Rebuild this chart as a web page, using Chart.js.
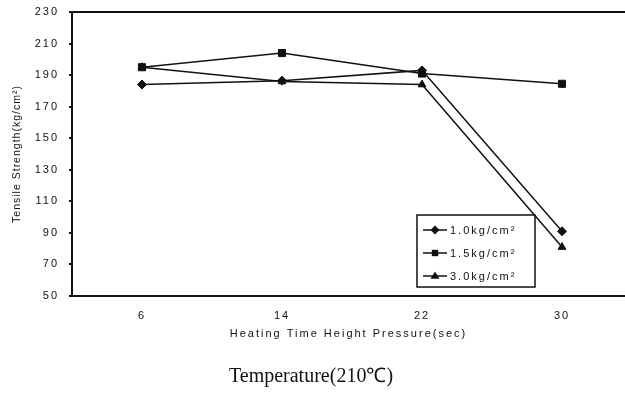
<!DOCTYPE html>
<html>
<head>
<meta charset="utf-8">
<script src="https://cdn.jsdelivr.net/npm/chart.js@4.4.1/dist/chart.umd.min.js"></script>
<style>
  html, body { margin: 0; padding: 0; background: #fff; }
  #wrap { position: relative; width: 625px; height: 399px; }
  #caption {
    position: absolute; left: 0; width: 622px; top: 364px;
    text-align: center; font-family: "Liberation Serif", serif;
    font-size: 20px; line-height: 22px; color: #111;
  }
</style>
</head>
<body>
<div id="wrap">
  <canvas id="chart" width="625" height="399"></canvas>
  <div id="caption">Temperature(210℃)</div>
</div>
<script>
"use strict"

// heating time (sec) categories
const heatingTimes = [6, 14, 22, 30];

// tensile strength (kg/cm2) per pressure
const strength10 = [184, 186.5, 193, 91];
const strength15 = [195, 204, 191, 184.5];
const strength30 = [195, 186, 184, 81];

const seriesLabels = ['1.0kg/cm²', '1.5kg/cm²', '3.0kg/cm²'];
const seriesStyles = ['rectRot', 'rect', 'triangle'];

const yMin = 50, yMax = 230, yStep = 20;
// x ticks every 4 sec, labels only on the categories
const xTickValues = [2, 6, 10, 14, 18, 22, 26, 30];

const INK = '#111';
const FONT = '"Liberation Sans", Arial, sans-serif';

function toPoints(values) {
  return values.map((v, i) => ({ x: heatingTimes[i], y: v }));
}

// canvas text in the original is letter-spaced (y title a bit less)
const spacing = {
  id: 'spacing',
  beforeLayout(chart) { chart.ctx.letterSpacing = '2px'; },
  beforeDraw(chart) {
    chart.ctx.letterSpacing = '2px';
    let ys = chart.scales.y;
    if (ys && !ys._spacedTitle) {
      let orig = ys.drawTitle;
      ys.drawTitle = function () {
        this.ctx.save();
        this.ctx.letterSpacing = '1px';
        orig.apply(this, arguments);
        this.ctx.restore();
      };
      ys._spacedTitle = true;
    }
  }
};

function marker(ctx, style, x, y, r) {
  ctx.beginPath();
  if (style == 'rect') {
    let s = r * Math.SQRT1_2;
    ctx.rect(x - s, y - s, 2 * s, 2 * s);
  } else if (style == 'rectRot') {
    ctx.moveTo(x, y - r); ctx.lineTo(x + r, y); ctx.lineTo(x, y + r); ctx.lineTo(x - r, y);
    ctx.closePath();
  } else {
    ctx.moveTo(x, y - r); ctx.lineTo(x + r, y + r * 0.6); ctx.lineTo(x - r, y + r * 0.6);
    ctx.closePath();
  }
  ctx.fill();
}

// boxed legend sitting inside the plot, lower right
const boxLegend = {
  id: 'boxLegend',
  afterDraw(chart) {
    let ctx = chart.ctx;
    let area = chart.chartArea;
    let x0 = 417, y0 = area.bottom - 81, w = 118, h = 72;
    ctx.save();
    ctx.fillStyle = '#fff';
    ctx.fillRect(x0, y0, w, h);
    ctx.strokeStyle = INK;
    ctx.lineWidth = 1.5;
    ctx.strokeRect(x0, y0, w, h);
    ctx.font = '11px ' + FONT;
    ctx.letterSpacing = '2px';
    ctx.textBaseline = 'middle';
    ctx.fillStyle = INK;
    chart.data.datasets.forEach((ds, i) => {
      let y = y0 + 15 + i * 23;
      ctx.beginPath();
      ctx.moveTo(x0 + 6, y);
      ctx.lineTo(x0 + 30, y);
      ctx.stroke();
      marker(ctx, ds.pointStyle, x0 + 18, y, 4.5);
      ctx.fillText(ds.label, x0 + 33, y + 1);
    });
    ctx.restore();
  }
};

const datasets = [strength10, strength15, strength30].map((values, i) => ({
  label: seriesLabels[i],
  data: toPoints(values),
  pointStyle: seriesStyles[i],
  pointRadius: seriesStyles[i] == 'rect' ? 5 : 4.5,
  borderColor: INK,
  backgroundColor: INK,
  borderWidth: 1.5,
  pointBorderWidth: 1,
  tension: 0,
  clip: false
}));

new Chart(document.getElementById('chart'), {
  type: 'line',
  data: { datasets: datasets },
  plugins: [spacing, boxLegend],
  options: {
    responsive: false,
    animation: false,
    layout: { autoPadding: false, padding: { top: 12, right: 0, bottom: 58, left: 0 } },
    plugins: {
      legend: { display: false },
      tooltip: { enabled: false }
    },
    scales: {
      x: {
        type: 'linear',
        min: 2,
        max: 33.6,
        afterBuildTicks: (scale) => { scale.ticks = xTickValues.map(v => ({ value: v })); },
        afterFit: (scale) => { scale.height = 45; },
        border: { color: INK, width: 2 },
        grid: { drawOnChartArea: false, drawTicks: false },
        ticks: {
          padding: 13,
          color: INK,
          font: { family: FONT, size: 11 },
          callback: (v) => heatingTimes.includes(v) ? String(v) : ''
        },
        title: {
          display: true,
          text: 'Heating Time Height Pressure(sec)',
          color: INK,
          font: { family: FONT, size: 11 },
          padding: { top: 0, bottom: 0 }
        }
      },
      y: {
        min: yMin,
        max: yMax,
        afterFit: (scale) => {
          scale.width = 72;
          scale.paddingTop = 6;
          scale.paddingBottom = 6;
        },
        border: { color: INK, width: 2 },
        grid: {
          drawOnChartArea: true,
          color: (c) => c.tick && c.tick.value == yMax ? INK : 'rgba(0,0,0,0)',
          lineWidth: 2,
          tickColor: INK,
          tickLength: 3
        },
        ticks: {
          stepSize: yStep,
          padding: 10,
          color: INK,
          font: { family: FONT, size: 11 }
        },
        title: {
          display: true,
          text: 'Tensile Strength(kg/cm²)',
          color: INK,
          font: { family: FONT, size: 10.5 },
          padding: { top: 11, bottom: 4 }
        }
      }
    }
  }
});
</script>
</body>
</html>
